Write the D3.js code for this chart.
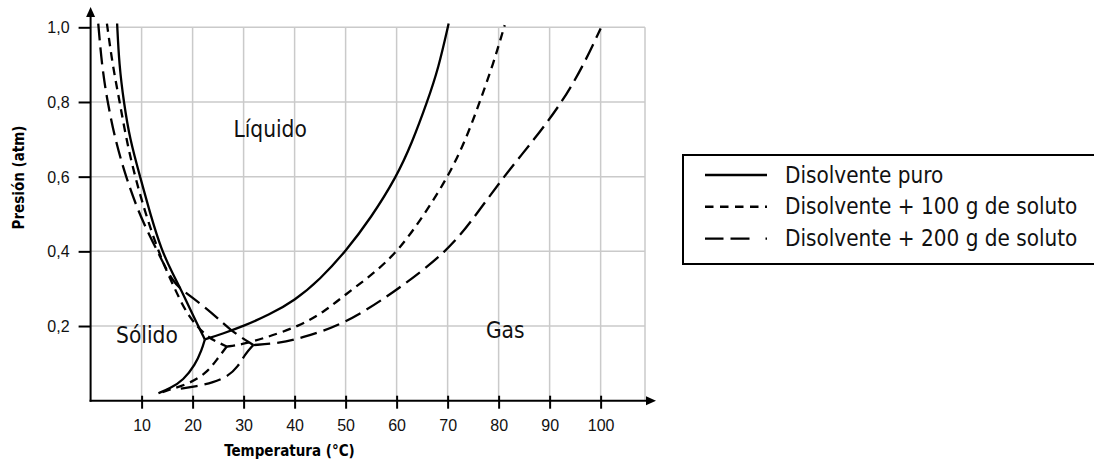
<!DOCTYPE html>
<html>
<head>
  <meta charset="UTF-8">
  <title>Diagrama de fases - disolvente</title>
  <script src="https://d3js.org/d3.v7.min.js"></script>
  <style>
    body { margin: 0; background: #fff; }
    svg { display: block; font-family: "DejaVu Sans Condensed", "DejaVu Sans", sans-serif; font-stretch: condensed; }
    .grid line { stroke: #cacaca; stroke-width: 1.5; }
    .axis text { font-size: 16px; fill: #111; }
    .axis line { stroke: #000; stroke-width: 2; }
    .curve { fill: none; stroke: #000; stroke-width: 2.3; }
    .region { font-size: 22.5px; fill: #111; }
    .title { font-size: 15px; font-weight: bold; fill: #000; }
    .legend text { font-size: 22.3px; fill: #111; }
  </style>
</head>
<body>
  <svg width="1094" height="463"></svg>

  <script>
    // ticks
    const xTicks = [10, 20, 30, 40, 50, 60, 70, 80, 90, 100];
    const yTicks = [0.2, 0.4, 0.6, 0.8, 1.0];
    const yTickLabels = ["0,2", "0,4", "0,6", "0,8", "1,0"];

    // [temperatura, presion]
    const pureFusion = [[5.2, 1.01], [5.6, 0.9], [6.5, 0.8], [7.7, 0.7], [9.7, 0.60], [11.7, 0.5], [13.9, 0.403],
      [16.1, 0.34], [18.2, 0.284], [20.3, 0.222], [22.4, 0.164]];
    const pureVapor = [[22.4, 0.164], [26, 0.18], [30, 0.2], [35, 0.23], [40, 0.268], [45, 0.325], [50, 0.40],
      [55, 0.49], [60, 0.60], [63, 0.69], [66, 0.80], [68.2, 0.89], [70.2, 1.01]];
    const pureSub = [[22.4, 0.164], [21.8, 0.136], [20.5, 0.096], [18.2, 0.055], [15.6, 0.033], [13.3, 0.02]];

    const fusion100 = [[3.2, 1.01], [4.3, 0.9], [5.6, 0.808], [7.0, 0.7], [8.7, 0.60], [11.0, 0.49], [13.9, 0.377],
      [16.5, 0.3], [19.1, 0.225], [22.8, 0.171], [24.7, 0.158], [26.7, 0.145]];
    const vapor100 = [[26.7, 0.145], [29.5, 0.15], [34, 0.167], [41, 0.2], [46, 0.24], [50, 0.285], [55, 0.335],
      [60.3, 0.40], [65.5, 0.50], [70.1, 0.60], [73.6, 0.70], [76.3, 0.80], [78.9, 0.90], [81.2, 1.006]];
    const sub100 = [[26.7, 0.145], [24.7, 0.109], [22.8, 0.075], [19.3, 0.045], [15.2, 0.029], [13.6, 0.02]];

    const fusion200 = [[1.5, 1.01], [2.2, 0.9], [3.2, 0.808], [4.8, 0.7], [6.9, 0.60], [9.7, 0.493], [13.3, 0.395],
      [16.2, 0.314], [18.8, 0.288], [24.0, 0.234], [27.3, 0.189], [31.9, 0.149]];
    const vapor200 = [[31.9, 0.149], [37.1, 0.154], [41.0, 0.167], [49.5, 0.203], [59.3, 0.288], [70.1, 0.40],
      [75.7, 0.50], [81.0, 0.60], [87.0, 0.70], [92.5, 0.80], [96.7, 0.90], [100, 0.997]];
    const sub200 = [[31.9, 0.149], [30.3, 0.125], [28.9, 0.091], [27.0, 0.066], [24.0, 0.048], [20.8, 0.039], [17.5, 0.032]];

    const seriesNames = ["Disolvente puro", "Disolvente + 100 g de soluto", "Disolvente + 200 g de soluto"];
    const seriesCurves = [
      [pureFusion, pureVapor, pureSub],
      [fusion100, vapor100, sub100],
      [fusion200, vapor200, sub200]
    ];
    const seriesDash = [null, "8.5,6", "17,7"];
    const legendDash = [null, "8.5,6.5", "18.5,7,19,16,2,40"];

    const regionLabels = [
      { text: "Líquido", t: 35.2, p: 0.706 },
      { text: "Sólido", t: 11.05, p: 0.155 },
      { text: "Gas", t: 81.3, p: 0.167 }
    ];

    const svg = d3.select("svg");

    const x = d3.scaleLinear().domain([0, 108.7]).range([90.6, 645]);
    const y = d3.scaleLinear().domain([0, 1]).range([400.7, 27.3]);

    // grid
    const grid = svg.append("g").attr("class", "grid");
    grid.selectAll(".v")
      .data(xTicks.concat([x.domain()[1]]))
      .enter().append("line")
      .attr("x1", d => x(d)).attr("x2", d => x(d))
      .attr("y1", y(0)).attr("y2", y(1));
    grid.selectAll(".h")
      .data(yTicks)
      .enter().append("line")
      .attr("x1", x(0)).attr("x2", x(x.domain()[1]))
      .attr("y1", d => y(d)).attr("y2", d => y(d));

    // axes
    const xAxis = svg.append("g")
      .attr("class", "axis")
      .attr("transform", `translate(0,${y(0)})`)
      .call(d3.axisBottom(x).tickValues(xTicks).tickSize(8).tickPadding(11).tickSizeOuter(0));
    xAxis.selectAll(".tick line").attr("y1", -5);
    xAxis.select(".domain").remove();

    const yAxis = svg.append("g")
      .attr("class", "axis")
      .attr("transform", `translate(${x(0)},0)`)
      .call(d3.axisLeft(y).tickValues(yTicks).tickSize(12).tickPadding(9).tickSizeOuter(0)
        .tickFormat((d, i) => yTickLabels[i]));
    yAxis.select(".domain").remove();
    yAxis.selectAll("text").attr("dy", "0.34em");

    // axis lines with arrow heads
    const axisG = svg.append("g");
    axisG.append("line")
      .attr("x1", x(0)).attr("x2", x(0))
      .attr("y1", y(0) + 1).attr("y2", 16)
      .attr("stroke", "#000").attr("stroke-width", 2);
    axisG.append("path")
      .attr("d", `M${x(0)},7 L${x(0) - 4.5},17 L${x(0) + 4.5},17 Z`)
      .attr("fill", "#000");
    axisG.append("line")
      .attr("x1", x(0) - 1).attr("x2", 647)
      .attr("y1", y(0)).attr("y2", y(0))
      .attr("stroke", "#000").attr("stroke-width", 2);
    axisG.append("path")
      .attr("d", `M656,${y(0)} L646,${y(0) - 4.5} L646,${y(0) + 4.5} Z`)
      .attr("fill", "#000");

    // curves
    const line = d3.line()
      .x(d => x(d[0]))
      .y(d => y(d[1]))
      .curve(d3.curveBasis);

    seriesCurves.forEach((curves, i) => {
      svg.append("g")
        .selectAll("path")
        .data(curves)
        .enter().append("path")
        .attr("class", "curve")
        .attr("d", line)
        .attr("stroke-dasharray", seriesDash[i]);
    });

    // region labels
    svg.selectAll(".region")
      .data(regionLabels)
      .enter().append("text")
      .attr("class", "region")
      .attr("text-anchor", "middle")
      .attr("x", d => x(d.t))
      .attr("y", d => y(d.p))
      .text(d => d.text);

    // axis titles
    svg.append("text")
      .attr("class", "title")
      .attr("text-anchor", "middle")
      .attr("x", 289.5)
      .attr("y", 456)
      .text("Temperatura (°C)");

    svg.append("text")
      .attr("class", "title")
      .attr("text-anchor", "middle")
      .attr("transform", "translate(24,177.5) rotate(-90)")
      .text("Presión (atm)");

    // legend
    const legend = svg.append("g").attr("class", "legend");
    legend.append("rect")
      .attr("x", 683).attr("y", 155)
      .attr("width", 500).attr("height", 109)
      .attr("fill", "#fff").attr("stroke", "#000").attr("stroke-width", 2);

    const item = legend.selectAll(".item")
      .data(seriesNames)
      .enter().append("g")
      .attr("transform", (d, i) => `translate(0,${i * 31.8})`);
    item.append("line")
      .attr("x1", 705).attr("x2", 767)
      .attr("y1", 175).attr("y2", 175)
      .attr("stroke", "#000").attr("stroke-width", 2.4)
      .attr("stroke-dasharray", (d, i) => legendDash[i]);
    item.append("text")
      .attr("x", 785)
      .attr("y", 182.7)
      .text(d => d);
  </script>
</body>
</html>
